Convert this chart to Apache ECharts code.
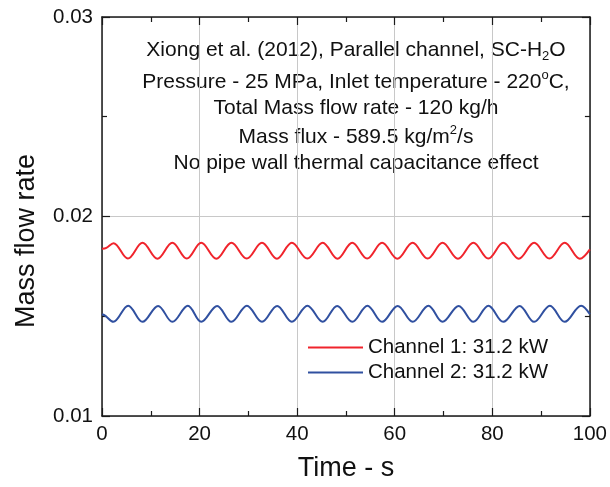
<!DOCTYPE html>
<html>
<head>
<meta charset="utf-8">
<script src="https://cdn.jsdelivr.net/npm/echarts@6/dist/echarts.min.js"></script>
<style>
html,body{margin:0;padding:0;background:#fff;}
#chart{width:610px;height:487px;}
</style>
</head>
<body>
<div id="chart"></div>
<script>
// ---- data ----
const xTicks = [0, 20, 40, 60, 80, 100];
const yTicks = ['0.01', '0.02', '0.03'];

const ch1Name = 'Channel 1: 31.2 kW';
const ch1Time = [0, 0.9, 2.35, 5.3, 8.3, 11.36, 14.42, 17.38, 20.34, 23.44, 26.53, 29.66, 32.79, 35.85, 38.91, 42.08, 45.24, 48.27, 51.29, 54.35, 57.41, 60.54, 63.67, 66.74, 69.8, 72.96, 76.12, 79.18, 82.24, 85.41, 88.57, 91.7, 94.83, 97.95, 100];
const ch1Flow = [0.01838, 0.01843, 0.01866, 0.01789, 0.01868, 0.01788, 0.01868, 0.01789, 0.01868, 0.01788, 0.01868, 0.01789, 0.01868, 0.01788, 0.01868, 0.01789, 0.01868, 0.01788, 0.01868, 0.01789, 0.01868, 0.01788, 0.01868, 0.01789, 0.01868, 0.01788, 0.01868, 0.01789, 0.01868, 0.01788, 0.01868, 0.01789, 0.01868, 0.01788, 0.01835];

const ch2Name = 'Channel 2: 31.2 kW';
const ch2Time = [0, 0.7, 2.31, 5.37, 8.3, 11.5, 14.42, 17.6, 20.34, 23.6, 26.53, 29.7, 32.79, 35.9, 38.91, 42.1, 45.24, 48.2, 51.29, 54.4, 57.41, 60.6, 63.67, 66.9, 69.8, 73.1, 76.12, 79.2, 82.24, 85.6, 88.57, 91.8, 94.83, 98.2, 100];
const ch2Flow = [0.0151, 0.01502, 0.01472, 0.01553, 0.01472, 0.01552, 0.01472, 0.01553, 0.01472, 0.01552, 0.01472, 0.01553, 0.01472, 0.01552, 0.01472, 0.01553, 0.01472, 0.01552, 0.01472, 0.01553, 0.01472, 0.01552, 0.01472, 0.01553, 0.01472, 0.01552, 0.01472, 0.01553, 0.01472, 0.01552, 0.01472, 0.01553, 0.01472, 0.01553, 0.0151];

const annotationLines = [
  'Xiong et al. (2012), Parallel channel, SC-H{sub|2}O',
  'Pressure - 25 MPa, Inlet temperature - 220{sup|o}C,',
  'Total Mass flow rate - 120 kg/h',
  'Mass flux - 589.5 kg/m{sup|2}/s',
  'No pipe wall thermal capacitance effect'
];
const xTitle = 'Time - s';
const yTitle = 'Mass flow rate';

// ---- chart ----
const FONT = '"Liberation Sans", Arial, Helvetica, sans-serif';
const zip = (a, b) => a.map((v, i) => [v, b[i]]);

const baseAxis = {
  axisLine: { show: true, onZero: false, lineStyle: { color: '#1a1a1a', width: 1.5 } },
  axisTick: { show: true, inside: true, length: 8, lineStyle: { color: '#1a1a1a', width: 1.2 } },
  minorTick: { show: true, splitNumber: 2, length: 5, lineStyle: { color: '#1a1a1a', width: 1.2 } },
};

const lineCenters = [50, 82, 108, 137, 163];
const annotationGraphics = annotationLines.map((t, i) => ({
  type: 'text', x: 356, y: lineCenters[i], silent: true,
  style: {
    text: t, align: 'center', verticalAlign: 'middle',
    font: '21px ' + FONT, fill: '#111', lineHeight: 26,
    rich: {
      sub: { fontSize: 13, fontFamily: FONT, verticalAlign: 'bottom', lineHeight: 12, fill: '#111' },
      sup: { fontSize: 13, fontFamily: FONT, verticalAlign: 'top', lineHeight: 12, fill: '#111' }
    }
  }
}));

const chart = echarts.init(document.getElementById('chart'), null, { renderer: 'canvas' });
chart.setOption({
  animation: false,
  backgroundColor: '#fff',
  textStyle: { fontFamily: FONT },
  grid: { left: 102, right: 18, top: 17, bottom: 71, containLabel: false },
  xAxis: [
    Object.assign({}, baseAxis, {
      type: 'value', min: xTicks[0], max: xTicks[xTicks.length - 1], interval: 20, position: 'bottom',
      axisLabel: { fontSize: 20.5, color: '#111', margin: 8, fontFamily: FONT },
      splitLine: { show: true, lineStyle: { color: '#c8c8c8', width: 1 } },
      name: xTitle, nameLocation: 'middle', nameGap: 39,
      nameTextStyle: { fontSize: 27, color: '#111', fontFamily: FONT }
    }),
    Object.assign({}, baseAxis, {
      type: 'value', min: xTicks[0], max: xTicks[xTicks.length - 1], interval: 20, position: 'top',
      axisLabel: { show: false }, splitLine: { show: false }
    })
  ],
  yAxis: [
    Object.assign({}, baseAxis, {
      type: 'value', min: Number(yTicks[0]), max: Number(yTicks[yTicks.length - 1]), interval: 0.01, position: 'left',
      axisLabel: { fontSize: 20.5, color: '#111', margin: 9, fontFamily: FONT, formatter: v => v.toFixed(2) },
      splitLine: { show: true, lineStyle: { color: '#c8c8c8', width: 1 } }
    }),
    Object.assign({}, baseAxis, {
      type: 'value', min: Number(yTicks[0]), max: Number(yTicks[yTicks.length - 1]), interval: 0.01, position: 'right',
      axisLabel: { show: false }, splitLine: { show: false }
    })
  ],
  legend: {
    orient: 'vertical', left: 308, top: 337, padding: 0,
    icon: 'rect', itemWidth: 55, itemHeight: 2, itemGap: 4,
    textStyle: { fontSize: 20.5, color: '#111', fontFamily: FONT, padding: [0, 0, 0, 0] },
    data: [ch1Name, ch2Name]
  },
  graphic: annotationGraphics.concat([
    {
      type: 'text', x: 27, y: 241, rotation: Math.PI / 2, silent: true,
      style: { text: yTitle, align: 'center', verticalAlign: 'middle', font: '27px ' + FONT, fill: '#111' }
    }
  ]),
  series: [
    {
      name: ch1Name, type: 'line', xAxisIndex: 0, yAxisIndex: 0, data: zip(ch1Time, ch1Flow),
      smooth: 0.36, showSymbol: false, symbol: 'none',
      lineStyle: { color: '#f0242c', width: 2 }, itemStyle: { color: '#f0242c' }
    },
    {
      name: ch2Name, type: 'line', xAxisIndex: 0, yAxisIndex: 0, data: zip(ch2Time, ch2Flow),
      smooth: 0.36, showSymbol: false, symbol: 'none',
      lineStyle: { color: '#3050a0', width: 2 }, itemStyle: { color: '#3050a0' }
    }
  ]
});
</script>
</body>
</html>
